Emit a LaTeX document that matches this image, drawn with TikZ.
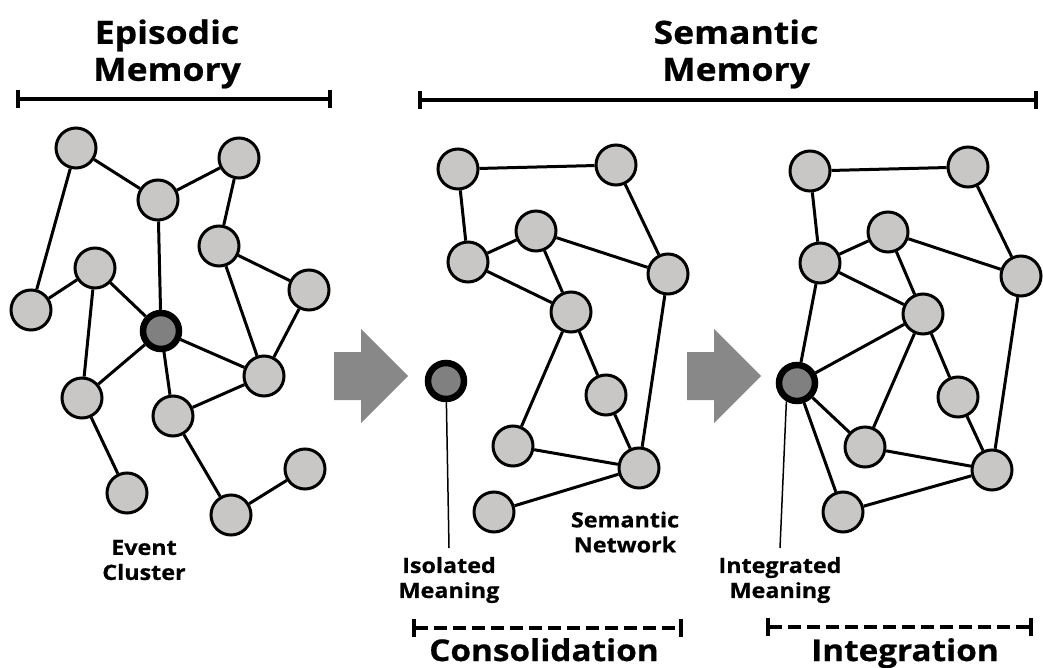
\documentclass[tikz,border=0pt]{standalone}
\usepackage{fontspec}
\setmainfont{Open Sans}[BoldFeatures={FakeStretch=1.11, FakeBold=0.6}]
\usetikzlibrary{arrows.meta}

\definecolor{nodegray}{RGB}{200,199,197}
\definecolor{hubgray}{RGB}{128,128,128}
\definecolor{arrowgray}{RGB}{136,136,136}

\tikzset{
  memnode/.style={circle, draw, line width=3pt, fill=nodegray, minimum size=40pt, inner sep=0pt},
  keynode/.style={circle, draw, line width=6.5pt, fill=hubgray, minimum size=36pt, inner sep=0pt},
  tie/.style={line width=3pt},
  leader/.style={line width=1.5pt},
  span/.style={line width=4pt, {Bar[width=18pt]}-{Bar[width=18pt]}},
  dspan/.style={span, dash pattern=on 13pt off 6pt},
  smalllbl/.style={font=\bfseries\fontsize{21}{25}\selectfont, align=center, inner sep=0pt},
  titlelbl/.style={font=\bfseries\fontsize{32}{37}\selectfont, align=center, inner sep=0pt},
  stagelbl/.style={font=\bfseries\fontsize{30}{36}\selectfont, inner sep=0pt},
  blockarrow/.style={fill=arrowgray},
}

\begin{document}
\begin{tikzpicture}[x=1pt, y=-1pt]
  \useasboundingbox (0,0) rectangle (1043,668);

  % titles and spans
  \node[titlelbl] (epi) at (167,54) {Episodic\\Memory};
  \node[titlelbl] (sem) at (736,54) {Semantic\\Memory};
  \coordinate (epiL) at (16,99);
  \coordinate (epiR) at (332,99);
  \coordinate (semL) at (418,100);
  \coordinate (semR) at (1038,100);
  \draw[span] (epiL) -- (epiR);
  \draw[span] (semL) -- (semR);

  % episodic memory
  \node[memnode] (e1) at (76,148) {};
  \node[memnode] (e2) at (158,200) {};
  \node[memnode] (e3) at (239,158) {};
  \node[memnode] (e4) at (219,246) {};
  \node[memnode] (e5) at (95,268) {};
  \node[memnode] (e6) at (309,290) {};
  \node[memnode] (e7) at (31,310) {};
  \node[memnode] (e8) at (82,398) {};
  \node[memnode] (e9) at (173,416) {};
  \node[memnode] (e10) at (264,376) {};
  \node[memnode] (e11) at (127,493) {};
  \node[memnode] (e12) at (231,515) {};
  \node[memnode] (e13) at (305,469) {};
  \node[keynode] (ev) at (161,331) {};

  \draw[tie] (e1) -- (e2) -- (e3) -- (e4) -- (e6) -- (e10) -- (e4);
  \draw[tie] (e1) -- (e7) -- (e5) -- (e8) -- (e11);
  \draw[tie] (e2) -- (ev) -- (e5);
  \draw[tie] (ev) -- (e8);
  \draw[tie] (ev) -- (e9) -- (e10) -- (ev);
  \draw[tie] (e9) -- (e12) -- (e13);

  \node[smalllbl] (evc) at (144,560) {Event\\Cluster};

  % arrows
  \fill[blockarrow, shift={(334,376)}] (0,-24) -- (27,-24) -- (27,-47) -- (74,0)
    -- (27,47) -- (27,24) -- (0,24) -- cycle;
  \fill[blockarrow, shift={(687,376)}] (0,-24) -- (27,-24) -- (27,-47) -- (74,0)
    -- (27,47) -- (27,24) -- (0,24) -- cycle;

  % consolidation
  \node[memnode] (s1) at (458,169) {};
  \node[memnode] (s2) at (616,165) {};
  \node[memnode] (s3) at (536,231) {};
  \node[memnode] (s4) at (468,262) {};
  \node[memnode] (s5) at (668,274) {};
  \node[memnode] (s6) at (571,312) {};
  \node[memnode] (s7) at (606,395) {};
  \node[memnode] (s8) at (513,446) {};
  \node[memnode] (s9) at (639,468) {};
  \node[memnode] (s10) at (494,512) {};
  \node[keynode] (iso) at (446,381) {};

  \draw[tie] (s4) -- (s1) -- (s2) -- (s5) -- (s9) -- (s10);
  \draw[tie] (s4) -- (s3) -- (s5);
  \draw[tie] (s4) -- (s6) -- (s3);
  \draw[tie] (s8) -- (s6) -- (s7) -- (s9) -- (s8);

  \coordinate (isoend) at (449,548);
  \draw[leader] (iso) -- (isoend);
  \node[smalllbl] (semnet) at (625,532) {Semantic\\Network};
  \node[smalllbl] (isom) at (449,580) {Isolated\\Meaning};

  % integration
  \node[memnode] (r1) at (810,171) {};
  \node[memnode] (r2) at (968,167) {};
  \node[memnode] (r3) at (888,232) {};
  \node[memnode] (r4) at (820,263) {};
  \node[memnode] (r5) at (1021,276) {};
  \node[memnode] (r6) at (923,314) {};
  \node[memnode] (r7) at (958,397) {};
  \node[memnode] (r8) at (865,447) {};
  \node[memnode] (r9) at (992,470) {};
  \node[memnode] (r10) at (843,512) {};
  \node[keynode] (ir) at (797,383) {};

  \draw[tie] (r4) -- (r1) -- (r2) -- (r5) -- (r9) -- (r10);
  \draw[tie] (r4) -- (r3) -- (r5);
  \draw[tie] (r4) -- (r6) -- (r3);
  \draw[tie] (r8) -- (r6) -- (r7) -- (r9) -- (r8);
  \draw[tie] (r4) -- (ir) -- (r6);
  \draw[tie] (ir) -- (r8);
  \draw[tie] (ir) -- (r10);

  \coordinate (intend) at (780,548);
  \draw[leader] (ir.240) -- (intend);
  \node[smalllbl] (intm) at (780,580) {Integrated\\Meaning};

  % stages
  \coordinate (consL) at (412,628);
  \coordinate (consR) at (683,628);
  \coordinate (integL) at (766,627);
  \coordinate (integR) at (1033,627);
  \draw[dspan] (consL) -- (consR);
  \draw[dspan] (integL) -- (integR);
  \node[stagelbl, anchor=base] (cons) at (544,661) {Consolidation};
  \node[stagelbl, anchor=base] (integ) at (905,661) {Integration};
\end{tikzpicture}
\end{document}
